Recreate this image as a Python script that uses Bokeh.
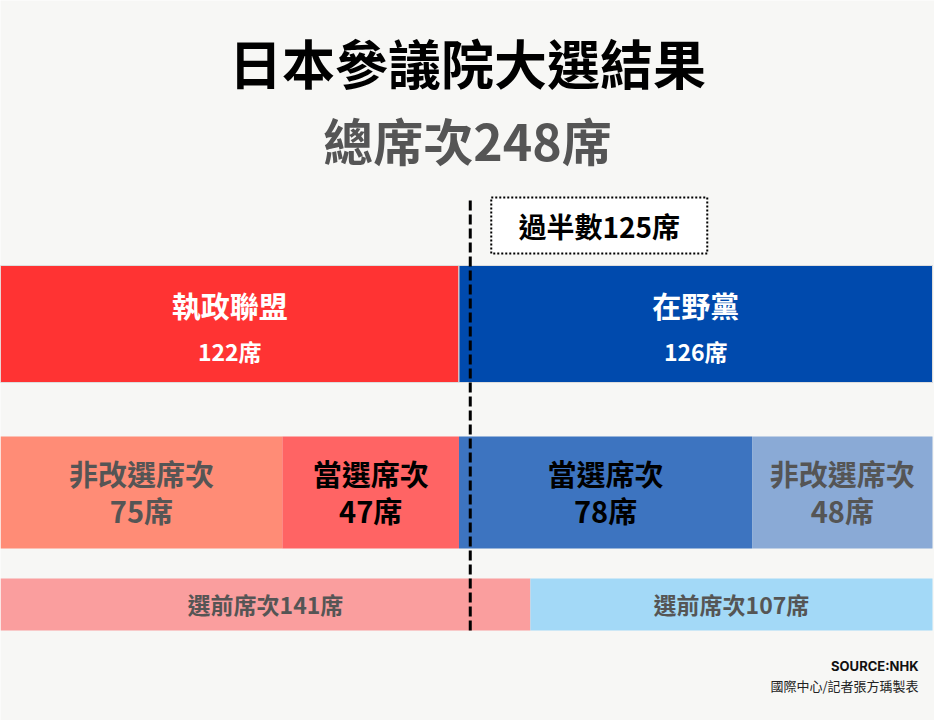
import numpy as np
from bokeh.plotting import figure
from bokeh.models import ColumnDataSource, Range1d
from bokeh.core.properties import value
from bokeh.embed import file_html
from bokeh.resources import INLINE

# ---------------- data ----------------
TOTAL_SEATS = 248
MAJORITY = 125
title_text = "日本參議院大選結果"
subtitle_text = "總席次248席"

bloc_names = ["執政聯盟", "在野黨"]
bloc_seats = [122, 126]

detail_labels = ["非改選席次", "當選席次", "當選席次", "非改選席次"]
detail_seats = [75, 47, 78, 48]

pre_label = "選前席次"
pre_seats = [141, 107]

source_note = "SOURCE:NHK"
credit_note = "國際中心/記者張方瑀製表"

# ---------------- style ----------------
BG = "#f7f7f5"
FONT = "Noto Sans CJK TC"
bloc_colors = ["#ff3333", "#004aad"]
bloc_text_colors = ["#ffffff", "#ffffff"]
detail_colors = ["#ff8c76", "#ff6464", "#3d74c0", "#8aaad6"]
detail_text_colors = ["#555555", "#000000", "#000000", "#555555"]
pre_colors = ["#fa9e9e", "#a3d9f7"]

W, H = 934, 720
X_END = TOTAL_SEATS * W / 932.0  # bars end 2px before the right edge

p = figure(width=W, height=H, output_backend="svg", toolbar_location=None,
           x_range=Range1d(0, X_END), y_range=Range1d(H, 0),
           min_border=0, background_fill_color=BG, border_fill_color=BG)
p.axis.visible = False
p.grid.visible = False
p.outline_line_color = None

px = X_END / W  # data units per screen pixel


def edges(vals):
    v = np.asarray(vals, dtype=float)
    right = np.cumsum(v)
    left = right - v
    return left, right


# Row 1: blocs
l1, r1 = edges(bloc_seats)
src1 = ColumnDataSource(dict(left=l1, right=r1, mid=(l1 + r1) / 2, color=bloc_colors,
                             tcolor=bloc_text_colors, name=bloc_names,
                             seat=[f"{s}席" for s in bloc_seats]))
p.hbar(y=323.5, height=117, left="left", right="right", color="color",
       line_color="#dddddd", line_width=1, source=src1)
p.text(x="mid", y=304, text="name", text_color="tcolor", source=src1,
       text_font=value(FONT), text_font_style="bold", text_font_size=value("29px"),
       text_align="center", text_baseline="middle")
p.text(x="mid", y=350, text="seat", text_color="tcolor", source=src1,
       text_font=value(FONT), text_font_style="bold", text_font_size=value("23px"),
       text_align="center", text_baseline="middle")

# Row 2: breakdown
l2, r2 = edges(detail_seats)
src2 = ColumnDataSource(dict(left=l2, right=r2, mid=(l2 + r2) / 2, color=detail_colors,
                             tcolor=detail_text_colors, name=detail_labels,
                             seat=[f"{s}席" for s in detail_seats]))
p.hbar(y=492, height=112, left="left", right="right", color="color",
       line_color=None, source=src2)
p.text(x="mid", y=472, text="name", text_color="tcolor", source=src2,
       text_font=value(FONT), text_font_style="bold", text_font_size=value("29px"),
       text_align="center", text_baseline="middle")
p.text(x="mid", y=509, text="seat", text_color="tcolor", source=src2,
       text_font=value(FONT), text_font_style="bold", text_font_size=value("29px"),
       text_align="center", text_baseline="middle")

# Row 3: pre-election seats
l3, r3 = edges(pre_seats)
src3 = ColumnDataSource(dict(left=l3, right=r3, mid=(l3 + r3) / 2, color=pre_colors,
                             name=[f"{pre_label}{s}席" for s in pre_seats]))
p.hbar(y=604, height=52, left="left", right="right", color="color",
       line_color=None, source=src3)
p.text(x="mid", y=603, text="name", text_color="#555555", source=src3,
       text_font=value(FONT), text_font_style="bold", text_font_size=value("23px"),
       text_align="center", text_baseline="middle")

# Majority line
p.segment(x0=[MAJORITY], y0=[200], x1=[MAJORITY], y1=[630],
          line_color="#000000", line_width=3, line_dash="10 4")

# Majority box
box_left = MAJORITY + 21 * px
box_w = 216 * px
p.quad(left=[box_left], right=[box_left + box_w], top=[197], bottom=[253],
       fill_color="#ffffff", line_color="#000000", line_width=2, line_dash="2 2")
p.text(x=[box_left + box_w / 2], y=[225], text=[f"過半數{MAJORITY}席"],
       text_color="#000000", text_font=value(FONT), text_font_style="bold",
       text_font_size=value("28px"), text_align="center", text_baseline="middle")

# Titles
p.text(x=[X_END / 2], y=[61], text=[title_text], text_color="#000000",
       text_font=value(FONT), text_font_style="bold", text_font_size=value("53px"),
       text_align="center", text_baseline="middle")
p.text(x=[X_END / 2], y=[138], text=[subtitle_text], text_color="#555555",
       text_font=value(FONT), text_font_style="bold", text_font_size=value("50px"),
       text_align="center", text_baseline="middle")

# Footer
p.text(x=[X_END - 16 * px], y=[665], text=[source_note], text_color="#111111",
       text_font=value("Inter"), text_font_style="bold", text_font_size=value("13px"),
       text_align="right", text_baseline="middle")
p.text(x=[X_END - 16 * px], y=[685], text=[credit_note], text_color="#222222",
       text_font=value(FONT), text_font_size=value("13px"),
       text_align="right", text_baseline="middle")

open("out.html", "w").write(file_html(p, INLINE))
